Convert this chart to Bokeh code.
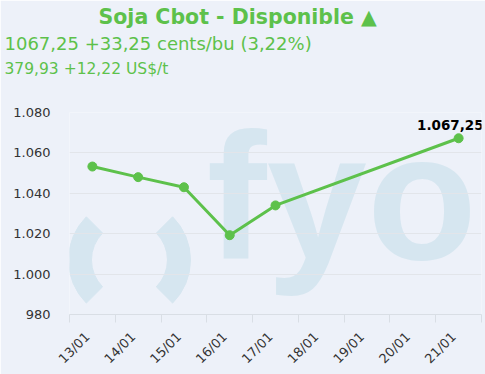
import math
from bokeh.plotting import figure
from bokeh.models import (Range1d, FixedTicker, Label, Title, ColumnDataSource)
from bokeh.core.properties import value
from bokeh.embed import file_html
from bokeh.resources import INLINE

# ---- data ----
categories = ["13/01", "14/01", "15/01", "16/01", "17/01", "18/01", "19/01", "20/01", "21/01"]
dates = ["13/01", "14/01", "15/01", "16/01", "17/01", "21/01"]
values = [1053.25, 1048.0, 1043.0, 1019.25, 1034.0, 1067.25]
y_ticks = [980, 1000, 1020, 1040, 1060, 1080]
title_text = "Soja Cbot - Disponible \u25B2"
sub1_text = "1067,25 +33,25 cents/bu (3,22%)"
sub2_text = "379,93 +12,22 US$/t"

GREEN = "#5DC14B"
BG = "#EDF1F9"
WM = "#D6E6F0"
FONT = "DejaVu Sans"

def fmt_thousands(v, dec=0):
    s = f"{v:,.{dec}f}"
    return s.replace(",", "X").replace(".", ",").replace("X", ".")

xs = [categories.index(d) + 0.5 for d in dates]

p = figure(width=485, height=374, output_backend="svg", toolbar_location=None,
           x_range=Range1d(0, len(categories)), y_range=Range1d(y_ticks[0], y_ticks[-1]),
           min_border_left=69, min_border_right=4, min_border_bottom=58, min_border_top=0)
p.background_fill_color = BG
p.border_fill_color = BG
p.outline_line_color = None

# titles: stacked above the plot (first added = closest to frame)
spacer = Title(text=" ", text_font=FONT, text_font_size="10px", standoff=17,
               text_color=BG, align="left")
t3 = Title(text=sub2_text, align="left", text_font=FONT, text_font_size="15.5px",
           text_font_style="normal", text_color=GREEN, offset=-65, standoff=9)
t2 = Title(text=sub1_text, align="left", text_font=FONT, text_font_size="18px",
           text_font_style="normal", text_color=GREEN, offset=-65, standoff=0)
t1 = Title(text=title_text, align="left", text_font=FONT, text_font_size="20.5px",
           text_font_style="bold", text_color=GREEN, offset=29, standoff=4)
p.add_layout(spacer, "above")
p.add_layout(t3, "above")
p.add_layout(t2, "above")
p.add_layout(t1, "above")

# watermark
ctr_x = 1.31
ctr_y = 1007.0
p.annular_wedge(x=[ctr_x, ctr_x], y=[ctr_y, ctr_y], inner_radius=38, outer_radius=61,
                inner_radius_units="screen", outer_radius_units="screen",
                start_angle=[math.radians(135), math.radians(-45)],
                end_angle=[math.radians(225), math.radians(45)],
                color=WM, level="image")
wm = Label(x=3.0, y=1038.5, text="fyo", text_font="Liberation Sans", text_font_size="180px",
           text_font_style="bold", text_color=WM, text_baseline="alphabetic", level="image")
p.add_layout(wm)

# grid
p.xgrid.grid_line_color = None
p.ygrid.grid_line_color = "#E2E5EA"
p.ygrid.ticker = FixedTicker(ticks=y_ticks)

# axes
p.yaxis.ticker = FixedTicker(ticks=y_ticks)
p.yaxis.major_label_overrides = {t: fmt_thousands(t) for t in y_ticks}
p.yaxis.axis_line_color = None
p.yaxis.major_tick_line_color = None
p.yaxis.minor_tick_line_color = None
p.yaxis.major_label_standoff = 13
p.yaxis.major_label_text_font = FONT
p.yaxis.major_label_text_font_size = "13px"
p.yaxis.major_label_text_color = "#333333"

label_shift = -0.11
centers = [i + 0.5 + label_shift for i in range(len(categories))]
bounds = [float(i) for i in range(len(categories) + 1)]
p.xaxis.ticker = FixedTicker(ticks=centers, minor_ticks=bounds)
p.xaxis.major_label_overrides = {c: lab for c, lab in zip(centers, categories)}
p.xaxis.axis_line_color = "#D9DEE5"
p.xaxis.major_tick_line_color = None
p.xaxis.minor_tick_line_color = "#D9DEE5"
p.xaxis.minor_tick_in = 0
p.xaxis.minor_tick_out = 8
p.xaxis.major_label_orientation = math.pi / 4
p.xaxis.major_label_standoff = 12
p.xaxis.major_label_text_font = FONT
p.xaxis.major_label_text_font_size = "13px"
p.xaxis.major_label_text_color = "#333333"

src = ColumnDataSource(dict(x=xs, y=values))
p.line("x", "y", source=src, line_color=GREEN, line_width=3)
p.scatter("x", "y", source=src, size=9, color=GREEN)

last = ColumnDataSource(dict(x=[xs[-1]], y=[values[-1]], t=[fmt_thousands(values[-1], 2)]))
p.text("x", "y", text="t", source=last, text_font=value(FONT), text_font_size="13.5px",
       text_font_style="bold", text_color="#000000", text_align="right",
       text_baseline="alphabetic", x_offset=25, y_offset=-13)

open("out.html", "w").write(file_html(p, INLINE))
